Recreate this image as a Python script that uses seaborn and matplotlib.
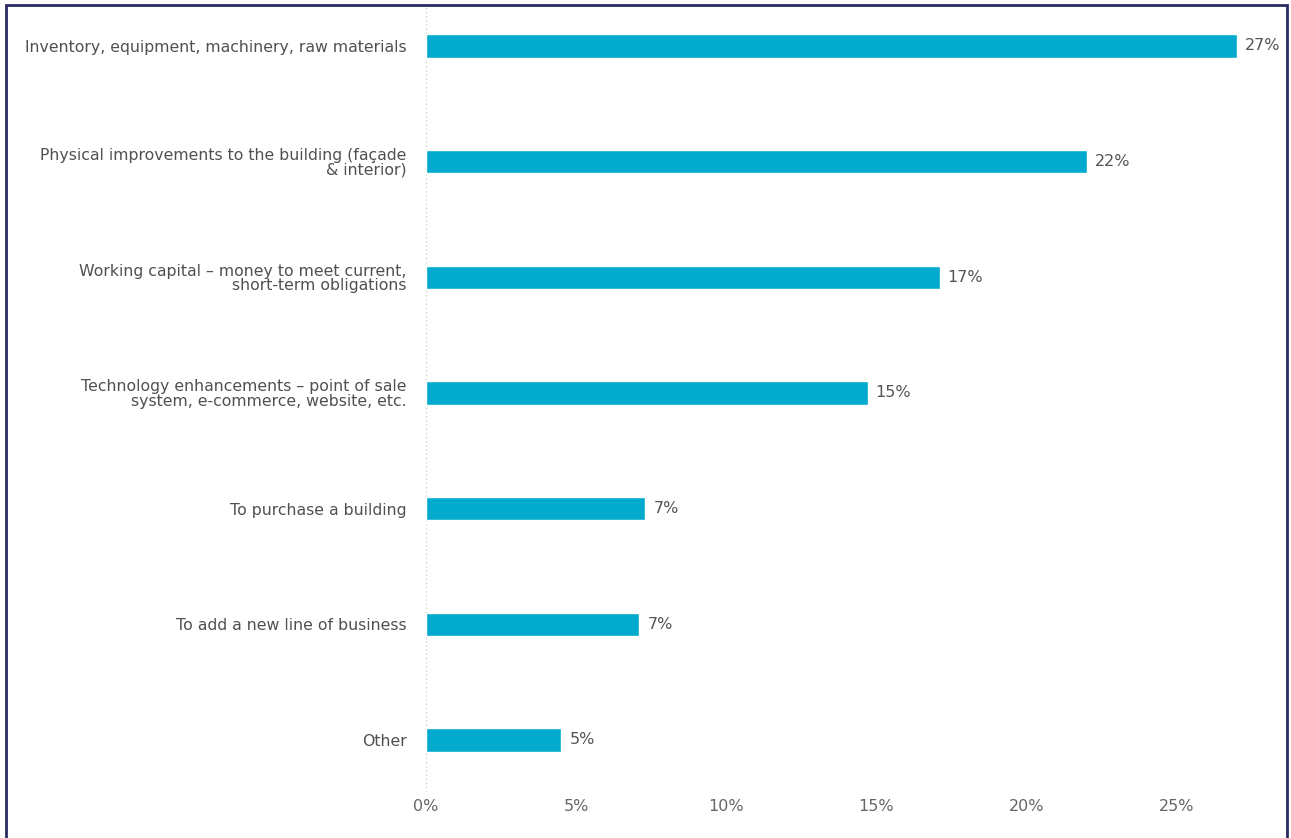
import matplotlib
matplotlib.use("Agg")
import matplotlib.pyplot as plt
import seaborn as sns
import pandas as pd
from matplotlib.patches import Rectangle

categories = [
    "Inventory, equipment, machinery, raw materials",
    "Physical improvements to the building (façade\n& interior)",
    "Working capital – money to meet current,\nshort-term obligations",
    "Technology enhancements – point of sale\nsystem, e-commerce, website, etc.",
    "To purchase a building",
    "To add a new line of business",
    "Other",
]
shares = [27.0, 22.0, 17.1, 14.7, 7.3, 7.1, 4.5]
tick_values = [0, 5, 10, 15, 20, 25]
tick_labels = ["0%", "5%", "10%", "15%", "20%", "25%"]

df = pd.DataFrame({"use": categories, "share": shares})

sns.set_theme(style="white")
plt.rcParams["font.family"] = ["DejaVu Sans"]

W, H = 1291, 838
fig = plt.figure(figsize=(W / 100, H / 100), dpi=100)
fig.patch.set_facecolor("white")

# axes placed in pixel terms
left, right, top, bottom = 426, 1285, 5.5, 792
ax = fig.add_axes([left / W, 1 - bottom / H, (right - left) / W, (bottom - top) / H])

sns.barplot(data=df, x="share", y="use", orient="h", color="#02AACD",
            saturation=1, width=0.2, ax=ax)

ax.set_xlim(0, 28.6)
ax.set_ylim(6.45, -0.35)
ax.set_xticks(tick_values)
ax.set_xticklabels(tick_labels, fontsize=11.5, color="#666666")
ax.tick_params(axis="x", length=0, pad=5)
ax.tick_params(axis="y", length=0, pad=14, labelsize=11.35, labelcolor="#505050")
ax.set_xlabel("")
ax.set_ylabel("")
for s in ax.spines.values():
    s.set_visible(False)
ax.axvline(0, color="#cfcfcf", linestyle=(0, (1, 2)), linewidth=1, zorder=0)

for i, v in enumerate(shares):
    ax.text(v + 0.27, i, f"{int(v + 0.5)}%", va="center", ha="left",
            fontsize=11.5, color="#555555")

for lbl in ax.get_yticklabels():
    lbl.set_multialignment("right")
    lbl.set_linespacing(0.95)

# frame around the panel
fig.patches.append(Rectangle((6 / W, -0.01), (1287 - 6) / W, 1 - 5 / H + 0.01,
                             transform=fig.transFigure, fill=False,
                             edgecolor="#2b2a63", linewidth=2))

fig.savefig("out.png", dpi=100, facecolor="white")
